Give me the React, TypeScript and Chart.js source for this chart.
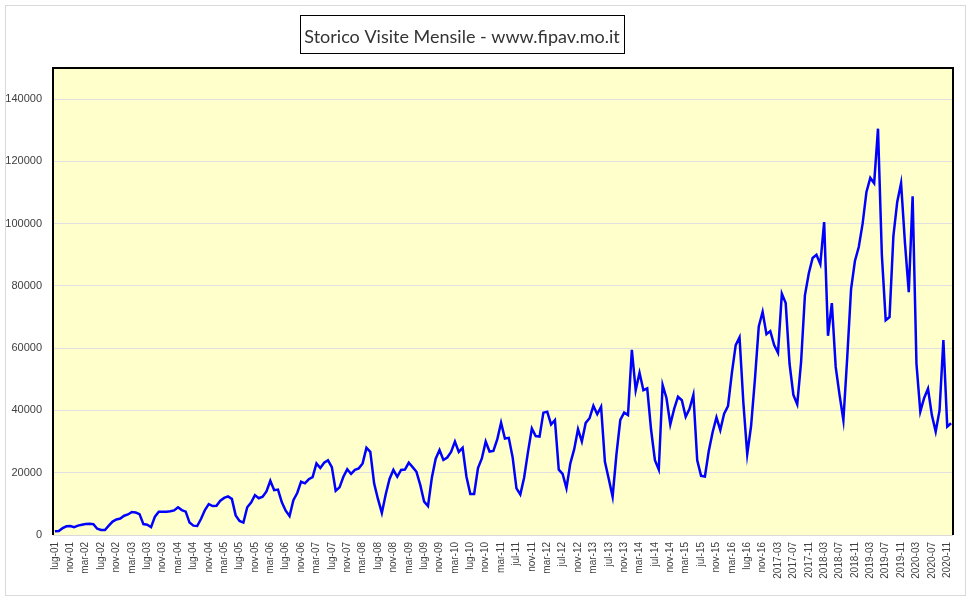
import { useEffect, useRef } from "react";
import { Chart, registerables } from "chart.js";

Chart.register(...registerables);

// Visible tick labels (one every 4 months, starting July 2001)
const tickLabels = [
  "lug-01", "nov-01",
  "mar-02", "lug-02", "nov-02",
  "mar-03", "lug-03", "nov-03",
  "mar-04", "lug-04", "nov-04",
  "mar-05", "lug-05", "nov-05",
  "mar-06", "lug-06", "nov-06",
  "mar-07", "lug-07", "nov-07",
  "mar-08", "lug-08", "nov-08",
  "mar-09", "lug-09", "nov-09",
  "mar-10", "lug-10", "nov-10",
  "mar-11", "jul-11", "nov-11",
  "mar-12", "jul-12", "nov-12",
  "mar-13", "jul-13", "nov-13",
  "mar-14", "jul-14", "nov-14",
  "mar-15", "jul-15", "nov-15",
  "mar-16", "lug-16", "nov-16",
  "2017-03", "2017-07", "2017-11",
  "2018-03", "2018-07", "2018-11",
  "2019-03", "2019-07", "2019-11",
  "2020-03", "2020-07", "2020-11",
];

const monthNames = ["gen", "feb", "mar", "apr", "mag", "giu", "lug", "ago", "set", "ott", "nov", "dic"];
const firstYear = 2001;
const firstMonth = 6; // July (0-based)

// Monthly visits, July 2001 .. December 2020
const visits = [
  1200, 1300, 2200, 2800, 2900, 2500, 3000, 3300, 3500, 3600, 3500, 2000,
  1600, 1600, 3000, 4300, 5000, 5300, 6200, 6600, 7400, 7200, 6700, 3500,
  3300, 2500, 5900, 7500, 7500, 7500, 7600, 7900, 8900, 8000, 7500, 4000,
  3000, 2900, 5200, 8000, 9900, 9300, 9400, 11000, 11900, 12400, 11600, 6300,
  4500, 4000, 8900, 10400, 12800, 11800, 12300, 14000, 17400, 14400, 14600, 10500,
  7800, 6100, 11200, 13500, 17100, 16600, 17900, 18600, 23000, 21500, 23200, 24000,
  21800, 14200, 15300, 18700, 21100, 19600, 20900, 21400, 23000, 28000, 26700, 16500,
  11500, 7100, 13000, 18000, 20900, 18700, 20900, 21000, 23200, 21800, 20300, 16000,
  10700, 9300, 18400, 24500, 27300, 24100, 24900, 26700, 30000, 26700, 28000, 18700,
  13200, 13200, 21500, 24600, 30000, 26800, 27000, 30700, 36100, 31000, 31200, 25000,
  15000, 13000, 18500, 26700, 34200, 31800, 31600, 39300, 39600, 35500, 36900, 21000,
  19600, 15000, 23000, 27500, 34000, 30000, 36000, 37500, 41500, 38800, 41200, 23500,
  18000, 12300, 26000, 37000, 39300, 38500, 59500, 46500, 52100, 46500, 47100, 33800,
  24000, 21000, 48200, 44000, 35500, 40500, 44400, 43300, 38000, 40500, 45000, 24000,
  19000, 18800, 27000, 33000, 37800, 33700, 39000, 41400, 52000, 61000, 63500, 42400,
  26000, 35000, 50000, 67000, 71700, 64500, 65500, 61000, 58500, 77500, 74500, 55000,
  45000, 42000, 55500, 77000, 84000, 89000, 90000, 87000, 100500, 64000, 74500, 54000,
  45000, 36900, 57000, 79000, 88000, 92500, 100000, 110200, 114700, 113000, 130500, 90000,
  69000, 70000, 96000, 107000, 113000, 94000, 78000, 108800, 55000, 39600, 44000, 47000,
  38500, 33200, 40000, 62600, 34800, 35900,
];

const yMax = 150000;
const yTickValues = [0, 20000, 40000, 60000, 80000, 100000, 120000, 140000];

const titleText = "Storico Visite Mensile - www.fipav.mo.it";

const categories = visits.map((_, i) => {
  const m = firstMonth + i;
  const yr = firstYear + Math.floor(m / 12);
  return `${monthNames[m % 12]}-${String(yr).slice(2)}`;
});

const decorPlugin = {
  id: "decor",
  beforeDraw(chart: any) {
    const { ctx, chartArea, width, height } = chart;
    ctx.save();
    ctx.fillStyle = "#ffffff";
    ctx.fillRect(0, 0, width, height);
    ctx.strokeStyle = "#d9d9d9";
    ctx.lineWidth = 1;
    ctx.strokeRect(5.5, 5.5, 960, 590);
    ctx.fillStyle = "#ffffcc";
    ctx.fillRect(chartArea.left, chartArea.top, chartArea.right - chartArea.left, chartArea.bottom - chartArea.top);
    ctx.restore();
  },
  beforeDatasetsDraw(chart: any) {
    const { ctx, chartArea } = chart;
    const { left, right, top, bottom } = chartArea;
    ctx.save();
    ctx.strokeStyle = "#d9d9d9";
    ctx.lineWidth = 1;
    ctx.beginPath();
    ctx.moveTo(left, bottom + 0.5);
    ctx.lineTo(right, bottom + 0.5);
    ctx.stroke();
    ctx.strokeStyle = "#000000";
    ctx.lineWidth = 2;
    ctx.beginPath();
    ctx.moveTo(left, bottom);
    ctx.lineTo(left, top);
    ctx.lineTo(right, top);
    ctx.lineTo(right, bottom);
    ctx.stroke();
    ctx.restore();
  },
  afterDraw(chart: any) {
    const { ctx } = chart;
    ctx.save();
    ctx.strokeStyle = "#000000";
    ctx.lineWidth = 1;
    ctx.strokeRect(300.5, 15.5, 324, 38);
    ctx.fillStyle = "#333333";
    ctx.font = "18px Lato";
    ctx.textAlign = "center";
    ctx.textBaseline = "alphabetic";
    ctx.fillText(titleText, 462, 43, 318);
    ctx.restore();
  },
};

export default function App() {
  const ref = useRef<HTMLCanvasElement | null>(null);

  useEffect(() => {
    if (!ref.current) return;
    const chart = new Chart(ref.current, {
      type: "line",
      data: {
        labels: categories,
        datasets: [
          {
            data: visits,
            borderColor: "#0000ff",
            backgroundColor: "#0000ff",
            borderWidth: 2.5,
            pointRadius: 0,
            tension: 0,
            fill: false,
          },
        ],
      },
      options: {
        animation: false,
        responsive: false,
        devicePixelRatio: 1,
        layout: { padding: { left: 0, top: 68, right: 18, bottom: 0 } },
        plugins: {
          legend: { display: false },
          tooltip: { enabled: false },
          title: { display: false },
        },
        scales: {
          x: {
            type: "category",
            offset: true,
            grid: { display: false, drawTicks: false },
            border: { display: false },
            ticks: {
              autoSkip: false,
              maxRotation: 90,
              minRotation: 90,
              padding: 7,
              color: "#404040",
              font: { family: "'Liberation Sans', Arial", size: 10 },
              callback: (_v: any, index: number) =>
                index % 4 === 0 ? tickLabels[index / 4] ?? "" : "",
            },
            afterFit: (scale: any) => {
              scale.height = 65;
            },
          },
          y: {
            min: 0,
            max: yMax,
            grid: { color: "#e0e0e0", lineWidth: 1, drawTicks: false },
            border: { display: false },
            ticks: {
              padding: 11,
              color: "#404040",
              font: { family: "'Liberation Sans', Arial", size: 11 },
              callback: (v: any) => String(v),
            },
            afterBuildTicks: (scale: any) => {
              scale.ticks = yTickValues.map((v) => ({ value: v }));
            },
            afterFit: (scale: any) => {
              scale.width = 53;
            },
          },
        },
      },
      plugins: [decorPlugin],
    });
    return () => chart.destroy();
  }, []);

  return (
    <div style={{ position: "fixed", left: 0, top: 0, width: 971, height: 600, background: "#fff" }}>
      <canvas ref={ref} width={971} height={600} style={{ display: "block", width: 971, height: 600 }} />
    </div>
  );
}
